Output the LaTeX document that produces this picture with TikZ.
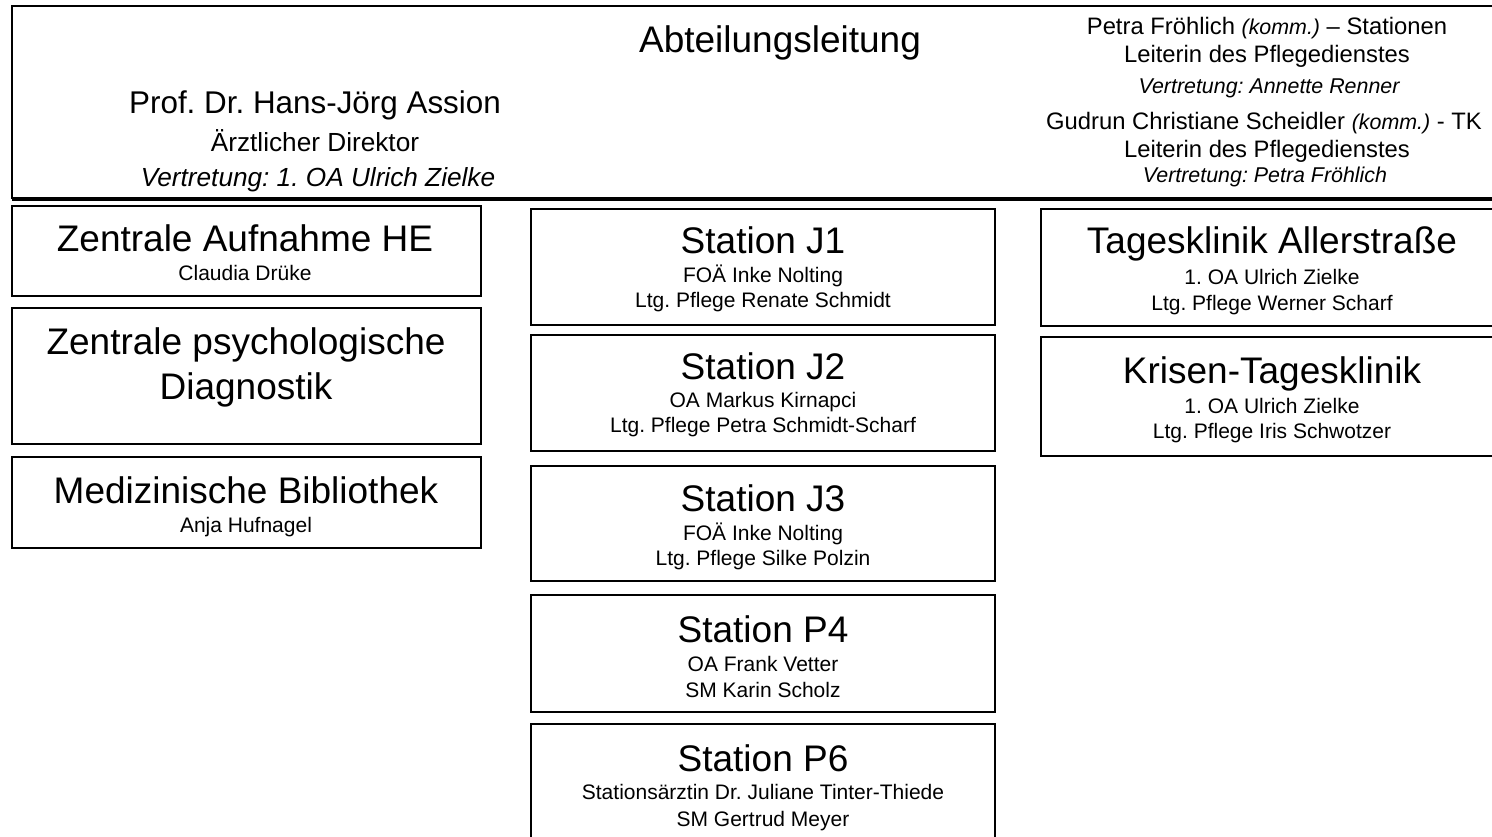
\documentclass[tikz,border=0pt]{standalone}
\usepackage{fontspec}
\setmainfont{Liberation Sans}
\frenchspacing
\newcommand{\fT}{\fontsize{37}{44}\selectfont}
\newcommand{\fS}{\fontsize{21}{25}\selectfont}
\newcommand{\fHa}{\fontsize{31.4}{37}\selectfont}
\newcommand{\fHb}{\fontsize{26.2}{31}\selectfont}
\newcommand{\fRa}{\fontsize{23.8}{28}\selectfont}
\newcommand{\fRb}{\fontsize{21.4}{25}\selectfont}
\begin{document}
\begin{tikzpicture}[x=1pt,y=-1pt,
  boxst/.style={draw=black, line width=1.8pt, rectangle, inner sep=0pt, fill=none},
  openbox/.style={rectangle, inner sep=0pt},
  edge/.style={draw=black, line width=1.8pt, line join=miter},
  txt/.style={anchor=base, inner sep=0pt, text=black}]
\useasboundingbox (0,0) rectangle (1492,837);
\clip (0,0) rectangle (1492,837);
\fill[white] (0,0) rectangle (1492,837);
% header (open to the right, beyond the page)
\node[openbox, minimum width=1560pt, minimum height=192pt] (hdr) at (792,102) {};
\draw[edge] (hdr.north east) -- (hdr.north west) -- (hdr.south west) -- (hdr.south east);
\draw[line width=4pt] ([yshift=-0.5pt]hdr.south west) -- ([yshift=-0.5pt]hdr.south east);
\node[txt, font=\fHa] (h1) at (315,114) {Prof. Dr. Hans-Jörg Assion};
\node[txt, font=\fHb] (h2) at (315,152) {Ärztlicher Direktor};
\node[txt, font=\fHb\itshape] (h3) at (318,187) {Vertretung: 1. OA Ulrich Zielke};
\node[txt, font=\fT] (abt) at (780,53) {Abteilungsleitung};
\node[txt, font=\fRa] (r1) at (1267,35) {Petra Fröhlich {\fRb\itshape (komm.)} – Stationen};
\node[txt, font=\fRa] (r2) at (1267,63) {Leiterin des Pflegedienstes};
\node[txt, font=\fRb\itshape] (r3) at (1269,94) {Vertretung: Annette Renner};
\node[txt, font=\fRa] (r4) at (1264,130) {Gudrun Christiane Scheidler {\fRb\itshape (komm.)} - TK};
\node[txt, font=\fRa] (r5) at (1267,158) {Leiterin des Pflegedienstes};
\node[txt, font=\fRb\itshape] (r6) at (1265,183) {Vertretung: Petra Fröhlich};
% left column
\node[boxst, minimum width=469pt, minimum height=90pt] (za) at (246.5,251) {};
\node[txt, font=\fT] (zat) at (245,252) {Zentrale Aufnahme HE};
\node[txt, font=\fS] (zas) at (245,280) {Claudia Drüke};
\node[boxst, minimum width=469pt, minimum height=136pt] (zp) at (246.5,376) {};
\node[txt, font=\fT] (zpt) at (246,354) {Zentrale psychologische};
\node[txt, font=\fT] (zpu) at (246,399) {Diagnostik};
\node[boxst, minimum width=469pt, minimum height=91pt] (mb) at (246.5,502.5) {};
\node[txt, font=\fT] (mbt) at (246,503) {Medizinische Bibliothek};
\node[txt, font=\fS] (mbs) at (246,532) {Anja Hufnagel};
% middle column
\node[boxst, minimum width=464pt, minimum height=116pt] (j1) at (763,267) {};
\node[txt, font=\fT] (j1t) at (763,254) {Station J1};
\node[txt, font=\fS] (j1a) at (763,283) {FOÄ Inke Nolting};
\node[txt, font=\fS] (j1b) at (763,308) {Ltg. Pflege Renate Schmidt};
\node[boxst, minimum width=464pt, minimum height=116pt] (j2) at (763,393) {};
\node[txt, font=\fT] (j2t) at (763,379) {Station J2};
\node[txt, font=\fS] (j2a) at (763,407) {OA Markus Kirnapci};
\node[txt, font=\fS] (j2b) at (763,432) {Ltg. Pflege Petra Schmidt-Scharf};
\node[boxst, minimum width=464pt, minimum height=115pt] (j3) at (763,523.5) {};
\node[txt, font=\fT] (j3t) at (763,511) {Station J3};
\node[txt, font=\fS] (j3a) at (763,540) {FOÄ Inke Nolting};
\node[txt, font=\fS] (j3b) at (763,565) {Ltg. Pflege Silke Polzin};
\node[boxst, minimum width=464pt, minimum height=117pt] (p4) at (763,653.5) {};
\node[txt, font=\fT] (p4t) at (763,642) {Station P4};
\node[txt, font=\fS] (p4a) at (763,671) {OA Frank Vetter};
\node[txt, font=\fS] (p4b) at (763,697) {SM Karin Scholz};
\node[openbox, minimum width=464pt, minimum height=160pt] (p6) at (763,804) {};
\draw[edge] (p6.south west) -- (p6.north west) -- (p6.north east) -- (p6.south east);
\node[txt, font=\fT] (p6t) at (763,771) {Station P6};
\node[txt, font=\fS] (p6a) at (763,799) {Stationsärztin Dr. Juliane Tinter-Thiede};
\node[txt, font=\fS] (p6b) at (763,826) {SM Gertrud Meyer};
% right column (open to the right, beyond the page)
\node[openbox, minimum width=520pt, minimum height=117pt] (ta) at (1301,267.5) {};
\draw[edge] (ta.north east) -- (ta.north west) -- (ta.south west) -- (ta.south east);
\node[txt, font=\fT] (tat) at (1272,254) {Tagesklinik Allerstraße};
\node[txt, font=\fS] (taa) at (1272,284) {1. OA Ulrich Zielke};
\node[txt, font=\fS] (tab) at (1272,310) {Ltg. Pflege Werner Scharf};
\node[openbox, minimum width=520pt, minimum height=119pt] (kt) at (1301,396.5) {};
\draw[edge] (kt.north east) -- (kt.north west) -- (kt.south west) -- (kt.south east);
\node[txt, font=\fT] (ktt) at (1272,383) {Krisen-Tagesklinik};
\node[txt, font=\fS] (kta) at (1272,413) {1. OA Ulrich Zielke};
\node[txt, font=\fS] (ktb) at (1272,438) {Ltg. Pflege Iris Schwotzer};
\end{tikzpicture}
\end{document}
